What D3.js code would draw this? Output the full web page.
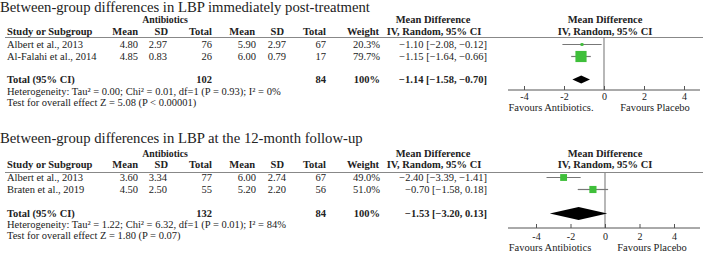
<!DOCTYPE html>
<html>
<head>
<meta charset="utf-8">
<script src="https://cdn.jsdelivr.net/npm/d3@7"></script>
<style>
  body { margin: 0; background: #fff; }
</style>
</head>
<body>
<svg id="chart" width="709" height="253"></svg>
<script>
// ---- data: panel 1 (immediately post-treatment)
const title1 = "Between-group differences in LBP immediately post-treatment";
const studies1 = ["Albert et al., 2013", "Al-Falahi et al., 2014"];
const abMean1 = ["4.80", "4.85"];
const abSD1 = ["2.97", "0.83"];
const abN1 = [76, 26];
const plMean1 = ["5.90", "6.00"];
const plSD1 = ["2.97", "0.79"];
const plN1 = [67, 17];
const weight1 = [20.3, 79.7];
const md1 = [-1.10, -1.15];
const lo1 = [-2.08, -1.64];
const hi1 = [-0.12, -0.66];
const total1 = [-1.14, -1.58, -0.70]; // md, lo, hi
const totalN1 = [102, 84];
const het1 = "Heterogeneity: Tau² = 0.00; Chi² = 0.01, df=1 (P = 0.93); I² = 0%";
const test1 = "Test for overall effect Z = 5.08 (P < 0.00001)";
const favours1 = ["Favours Antibiotics.", "Favours Placebo"];

// ---- data: panel 2 (12-month follow-up)
const title2 = "Between-group differences in LBP at the 12-month follow-up";
const studies2 = ["Albert et al., 2013", "Braten et al., 2019"];
const abMean2 = ["3.60", "4.50"];
const abSD2 = ["3.34", "2.50"];
const abN2 = [77, 55];
const plMean2 = ["6.00", "5.20"];
const plSD2 = ["2.74", "2.20"];
const plN2 = [67, 56];
const weight2 = [49.0, 51.0];
const md2 = [-2.40, -0.70];
const lo2 = [-3.39, -1.58];
const hi2 = [-1.41, 0.18];
const total2 = [-1.53, -3.20, 0.13];
const totalN2 = [132, 84];
const het2 = "Heterogeneity: Tau² = 1.22; Chi² = 6.32, df=1 (P = 0.01); I² = 84%";
const test2 = "Test for overall effect Z = 1.80 (P = 0.07)";
const favours2 = ["Favours Antibiotics", "Favours Placebo"];

const ticks = [-4, -2, 0, 2, 4];

const FONT = "'Liberation Serif', 'Times New Roman', serif";
const svg = d3.select("#chart");
const fmt = d3.format(".2f");
const ciText = (m, l, h) => `${fmt(m)} [${fmt(l)}, ${fmt(h)}]`;

function drawPanel(top, p) {
    const g = svg.append("g").attr("transform", `translate(0,${top})`);
    const fs = 10.5;

    const txt = (x, y, s, anchor, bold, size) => g.append("text")
        .attr("x", x).attr("y", y)
        .attr("font-family", FONT)
        .attr("fill", "#222")
        .attr("text-anchor", anchor || "start")
        .attr("font-weight", bold ? "bold" : "normal")
        .attr("font-size", size || fs)
        .text(s);

    txt(0, p.yTitle, p.title, "start", false, 14.7);

    // header
    txt(165, p.yGroup, "Antibiotics", "middle", true, 9.8);
    txt(433, p.yGroup, "Mean Difference", "middle", true);
    txt(605, p.yGroup, "Mean Difference", "middle", true);
    const hy = p.yHead;
    txt(7, hy, "Study or Subgroup", "start", true);
    txt(138, hy, "Mean", "end", true);
    txt(168, hy, "SD", "end", true);
    txt(212, hy, "Total", "end", true);
    txt(255, hy, "Mean", "end", true);
    txt(284, hy, "SD", "end", true);
    txt(326, hy, "Total", "end", true);
    txt(379, hy, "Weight", "end", true);
    txt(434, hy, "IV, Random, 95% CI", "middle", true);
    txt(605, hy, "IV, Random, 95% CI", "middle", true);

    g.append("line")
        .attr("x1", 5).attr("x2", 703)
        .attr("y1", p.yLine).attr("y2", p.yLine)
        .attr("stroke", "#888").attr("stroke-width", 1);

    // study rows
    p.studies.forEach((s, i) => {
        const y = p.yRows[i];
        txt(7, y, s);
        txt(138, y, p.abMean[i], "end");
        txt(167, y, p.abSD[i], "end");
        txt(212, y, p.abN[i], "end");
        txt(256, y, p.plMean[i], "end");
        txt(286, y, p.plSD[i], "end");
        txt(326, y, p.plN[i], "end");
        txt(380, y, d3.format(".1f")(p.weight[i]) + "%", "end");
        txt(487, y, ciText(p.md[i], p.lo[i], p.hi[i]), "end");
    });

    // total row
    const ty = p.yTotal;
    txt(7, ty, "Total (95% CI)", "start", true);
    txt(212, ty, p.totalN[0], "end", true);
    txt(326, ty, p.totalN[1], "end", true);
    txt(380, ty, "100%", "end", true);
    txt(487, ty, ciText(p.total[0], p.total[1], p.total[2]), "end", true);
    txt(7, p.yHet, p.het);
    txt(7, p.yTest, p.test);

    // forest plot
    const x = d3.scaleLinear().domain([-4, 4]).range(p.xRange);

    g.append("line")
        .attr("x1", x(0)).attr("x2", x(0))
        .attr("y1", p.yLine).attr("y2", p.yAxis)
        .attr("stroke", "#888").attr("stroke-width", 1.2);

    p.md.forEach((m, i) => {
        const cy = p.yRows[i] - 3.5;
        g.append("line")
            .attr("x1", x(p.lo[i])).attr("x2", x(p.hi[i]))
            .attr("y1", cy).attr("y2", cy)
            .attr("stroke", "#777").attr("stroke-width", 1.2);
        const side = 14 * p.weight[i] / 100;
        g.append("rect")
            .attr("x", x(m) - side / 2).attr("y", cy - side / 2)
            .attr("width", side).attr("height", side)
            .attr("fill", "#3fbf3a");
    });

    const dy = p.yTotal - 3.5;
    const dh = p.diamondH / 2;
    g.append("path")
        .attr("d", `M${x(p.total[1])},${dy}L${x(p.total[0])},${dy - dh}L${x(p.total[2])},${dy}L${x(p.total[0])},${dy + dh}Z`)
        .attr("fill", "#000");

    const axis = g.append("g")
        .attr("transform", `translate(0,${p.yAxis})`)
        .call(d3.axisBottom(x).tickValues(ticks).tickFormat(d => String(d))
            .tickSizeInner(-4).tickSizeOuter(0).tickPadding(p.tickPad));
    axis.select(".domain").remove();
    axis.append("line")
        .attr("x1", 508).attr("x2", 700)
        .attr("stroke", "#555");
    axis.selectAll(".tick line").attr("stroke", "#555");
    axis.selectAll(".tick text")
        .attr("font-family", FONT)
        .attr("font-size", 10).attr("fill", "#222");

    txt(p.favX[0], p.yFav, p.favours[0], "middle");
    txt(p.favX[1], p.yFav, p.favours[1], "middle");
}

drawPanel(0, {
    title: title1, studies: studies1, abMean: abMean1, abSD: abSD1, abN: abN1,
    plMean: plMean1, plSD: plSD1, plN: plN1, weight: weight1,
    md: md1, lo: lo1, hi: hi1, total: total1, totalN: totalN1,
    het: het1, test: test1, favours: favours1,
    yTitle: 12, yGroup: 23, yHead: 35, yLine: 37.5, yRows: [48, 60],
    yTotal: 83, yHet: 95, yTest: 106, yAxis: 90, yFav: 111, tickPad: 3,
    xRange: [524, 684], diamondH: 8, favX: [551, 655]
});

drawPanel(125, {
    title: title2, studies: studies2, abMean: abMean2, abSD: abSD2, abN: abN2,
    plMean: plMean2, plSD: plSD2, plN: plN2, weight: weight2,
    md: md2, lo: lo2, hi: hi2, total: total2, totalN: totalN2,
    het: het2, test: test2, favours: favours2,
    yTitle: 18, yGroup: 32, yHead: 43, yLine: 47.5, yRows: [56, 68],
    yTotal: 92, yHet: 103, yTest: 114, yAxis: 103, yFav: 126, tickPad: 5,
    xRange: [536, 674], diamondH: 13, favX: [550, 652]
});
</script>
</body>
</html>
